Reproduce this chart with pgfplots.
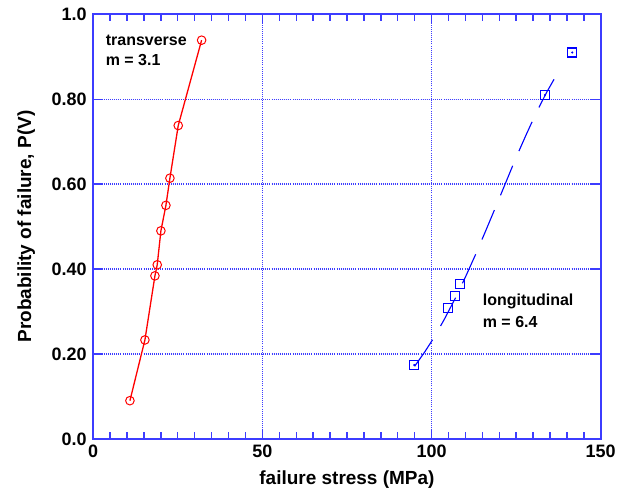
\documentclass[border=0pt]{standalone}
\usepackage{fontspec}
\setmainfont{Liberation Sans}
\usepackage{pgfplots}
\pgfplotsset{compat=1.18}
\definecolor{axblue}{RGB}{60,60,255}

\begin{document}
\begin{tikzpicture}
\begin{axis}[
  scale only axis, width=508pt, height=425pt,
  xmin=0, xmax=150, ymin=0, ymax=1,
  axis line style={axblue, line width=1.6pt},
  xtick={0,50,100,150},
  minor x tick num=9,
  ytick={0,0.2,0.4,0.6,0.8,1.0},
  tick align=inside,
  tick style={axblue, line width=1.4pt},
  major tick length=10pt, minor tick length=7pt,
  grid=major,
  major grid style={axblue, line width=1.3pt, dash pattern=on 1pt off 1.1pt},
  xticklabels={0,50,100,150},
  yticklabels={0.0,0.20,0.40,0.60,0.80,1.0},
  ticklabel style={font=\fontsize{18}{20}\selectfont\bfseries, text=black},
  xticklabel style={yshift=-3pt},
  yticklabel style={xshift=-3pt},
  xlabel={failure stress (MPa)}, ylabel={Probability of failure, P(V)},
  label style={font=\fontsize{19}{22}\selectfont\bfseries},
  xlabel style={at={(axis description cs:0.5,-0.0965)}, anchor=center},
  ylabel style={at={(axis description cs:-0.132,0.5)}, anchor=center},
]
% transverse data and line
\addplot[red, line width=1.3pt, mark=o, mark size=4.3pt,
  mark options={solid, line width=1pt}] coordinates {
  (10.85,0.090) (15.28,0.233) (18.24,0.384) (18.92,0.410) (20.01,0.490)
  (21.49,0.550) (22.67,0.614) (25.13,0.738) (32.04,0.939)};
% longitudinal fit line (dashed)
\addplot[blue, line width=1.1pt, dash pattern=on 32pt off 16pt] coordinates {
  (95,0.171) (98,0.205) (101,0.242) (104,0.285) (107,0.331) (110,0.381)
  (113,0.434) (116,0.490) (119,0.547) (122,0.605) (125,0.663) (128,0.717)
  (131,0.769) (134,0.816) (137,0.858) (138.5,0.877)};
% longitudinal data
\addplot[blue, only marks, mark=square, mark size=4.5pt,
  mark options={solid, line width=1.1pt}] coordinates {
  (94.9,0.174) (104.8,0.308) (106.9,0.337) (108.4,0.365) (133.5,0.810) (141.6,0.910)};
\addplot[blue, only marks, mark=*, mark size=0.8pt] coordinates {
  (94.9,0.174) (133.5,0.810) (141.6,0.910)};
\node[anchor=west, inner sep=0pt, font=\fontsize{16}{18}\selectfont\bfseries]
  at (axis cs:3.67,0.938) {transverse};
\node[anchor=west, inner sep=0pt, font=\fontsize{16}{18}\selectfont\bfseries]
  at (axis cs:3.67,0.892) {m = 3.1};
\node[anchor=west, inner sep=0pt, font=\fontsize{16}{18}\selectfont\bfseries]
  at (axis cs:115.1,0.323) {longitudinal};
\node[anchor=west, inner sep=0pt, font=\fontsize{16}{18}\selectfont\bfseries]
  at (axis cs:115.1,0.275) {m = 6.4};
\end{axis}
\path ([xshift=-93.3pt,yshift=-57pt]current axis.south west)
  rectangle ([xshift=24.3pt,yshift=14.3pt]current axis.north east);
\end{tikzpicture}
\end{document}
